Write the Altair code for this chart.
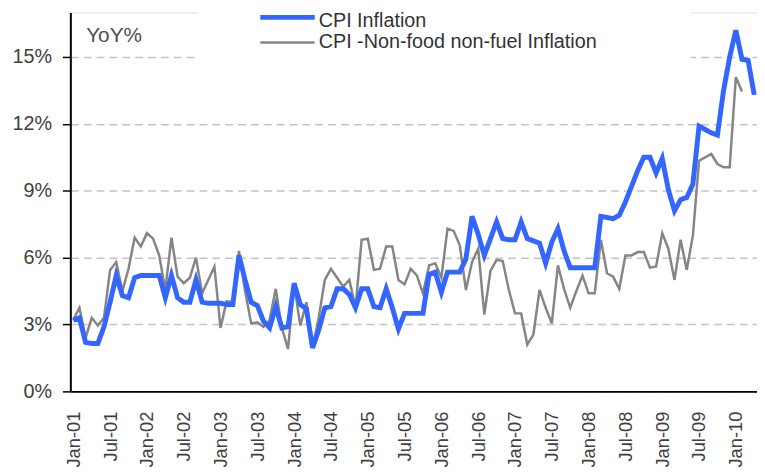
import altair as alt
import pandas as pd

# Monthly YoY inflation, Jan-2001 onwards (%)
CPI_INFLATION = [
    3.2, 3.3, 2.2, 2.15, 2.15, 2.9, 4.0, 5.2, 4.3, 4.2, 5.1, 5.2,          # 2001
    5.2, 5.2, 5.2, 4.2, 5.2, 4.2, 4.0, 4.0, 5.0, 4.0, 3.95, 3.95,          # 2002
    3.95, 3.9, 3.9, 6.1, 5.0, 4.0, 3.85, 3.15, 2.85, 3.8, 2.85, 2.9,       # 2003
    4.85, 3.9, 3.7, 1.95, 2.75, 3.75, 3.8, 4.6, 4.6, 4.35, 3.75, 4.6,      # 2004
    4.6, 3.8, 3.75, 4.6, 3.75, 2.8, 3.5, 3.5, 3.5, 3.5, 5.25, 5.35,        # 2005
    4.45, 5.35, 5.35, 5.35, 5.95, 7.85, 7.05, 6.1, 6.85, 7.6, 6.85, 6.8,   # 2006
    6.8, 7.6, 6.85, 6.75, 6.65, 5.75, 6.7, 7.3, 6.3, 5.55, 5.55, 5.55,     # 2007
    5.55, 5.55, 7.85, 7.8, 7.75, 7.9, 8.5, 9.2, 9.9, 10.5, 10.5, 9.8,      # 2008
    10.45, 9.05, 8.1, 8.6, 8.7, 9.3, 11.9, 11.75, 11.6, 11.5, 13.5, 15.0,  # 2009
    16.2, 14.9, 14.85, 13.3,                                               # 2010
]
CORE_INFLATION = [
    3.2, 3.75, 2.4, 3.3, 2.95, 3.3, 5.45, 5.8, 4.5, 5.5, 6.9, 6.5,         # 2001
    7.1, 6.85, 6.1, 4.55, 6.9, 5.15, 4.85, 5.1, 6.0, 4.4, 5.0, 5.6,        # 2002
    2.85, 4.05, 4.0, 6.3, 4.5, 3.05, 3.1, 2.9, 3.2, 4.6, 2.85, 1.9,        # 2003
    4.8, 2.95, 4.0, 1.95, 3.3, 5.0, 5.5, 5.1, 4.7, 5.0, 3.75, 6.8,         # 2004
    6.85, 5.45, 5.5, 6.5, 6.5, 5.0, 4.8, 5.5, 5.2, 4.4, 5.65, 5.75,        # 2005
    5.1, 7.3, 7.2, 6.55, 4.55, 5.8, 6.4, 3.45, 5.4, 5.9, 5.85, 4.55,       # 2006
    3.5, 3.5, 2.1, 2.55, 4.55, 3.75, 3.05, 5.65, 4.6, 3.75, 4.5, 5.2,      # 2007
    4.4, 4.4, 6.8, 5.3, 5.15, 4.6, 6.1, 6.1, 6.25, 6.25, 5.55, 5.6,        # 2008
    7.1, 6.4, 5.0, 6.8, 5.45, 7.0, 10.35, 10.5, 10.65, 10.2, 10.05, 10.05, # 2009
    14.1, 13.45,                                                           # 2010
]
SERIES = ["CPI Inflation", "CPI -Non-food non-fuel Inflation"]
TICK_LABELS = ["Jan-01", "Jul-01", "Jan-02", "Jul-02", "Jan-03", "Jul-03", "Jan-04",
               "Jul-04", "Jan-05", "Jul-05", "Jan-06", "Jul-06", "Jan-07", "Jul-07",
               "Jan-08", "Jul-08", "Jan-09", "Jul-09", "Jan-10"]
Y_TICKS = [0, 3, 6, 9, 12, 15]

BLUE = "#3366FF"
GREY = "#858585"
FONT = "Liberation Sans"

rows = []
for i, v in enumerate(CPI_INFLATION):
    rows.append({"m": i, "series": SERIES[0], "value": v})
for i, v in enumerate(CORE_INFLATION):
    rows.append({"m": i, "series": SERIES[1], "value": v})
df = pd.DataFrame(rows)

label_expr = "[" + ",".join("'%s'" % t for t in TICK_LABELS) + "][round(datum.value/6)]"

x_enc = alt.X(
    "m:Q",
    scale=alt.Scale(domain=[-0.484, 111.45], nice=False, zero=False),
    axis=alt.Axis(
        values=[6 * i for i in range(len(TICK_LABELS))],
        labelExpr=label_expr,
        labelAngle=270,
        labelAlign="right",
        labelBaseline="middle",
        labelPadding=20,
        labelFontSize=18.5,
        labelColor="#404040",
        labelFont=FONT,
        labelOverlap=False,
        labelFlush=False,
        labelBound=False,
        ticks=False,
        grid=False,
        domainColor="#000000",
        domainWidth=2,
        title=None,
    ),
)
y_enc = alt.Y(
    "value:Q",
    scale=alt.Scale(domain=[0, 17], nice=False, zero=True),
    axis=alt.Axis(
        values=Y_TICKS,
        labelExpr="datum.value + '%'",
        labelFontSize=20,
        labelColor="#404040",
        labelFont=FONT,
        labelPadding=11,
        tickSize=8,
        tickColor="#000000",
        tickWidth=1.5,
        domainColor="#000000",
        domainWidth=2,
        grid=True,
        gridDash=[8, 5],
        gridColor="#c4c4c4",
        gridWidth=1.5,
        title=None,
    ),
)

base = alt.Chart(df)
grey_line = base.transform_filter(alt.datum.series == SERIES[1]).mark_line(
    color=GREY, strokeWidth=2.5
).encode(x=x_enc, y=y_enc)
blue_line = base.transform_filter(alt.datum.series == SERIES[0]).mark_line(
    color=BLUE, strokeWidth=5
).encode(x=x_enc, y=y_enc)

# legend background box (hides gridline under legend, as in the original)
box = alt.Chart(pd.DataFrame({"k": [0]})).mark_rect(color="white").encode(
    x=alt.value(129), x2=alt.value(627), y=alt.value(-10), y2=alt.value(47)
)

leg_df = pd.DataFrame({"label": SERIES})
leg_blue = alt.Chart(leg_df.iloc[[0]]).mark_rule(color=BLUE, strokeWidth=5).encode(
    x=alt.value(192), x2=alt.value(247), y=alt.value(5)
)
leg_grey = alt.Chart(leg_df.iloc[[1]]).mark_rule(color=GREY, strokeWidth=2.5).encode(
    x=alt.value(192), x2=alt.value(247), y=alt.value(30.5)
)
leg_txt1 = alt.Chart(leg_df.iloc[[0]]).mark_text(
    align="left", baseline="alphabetic", fontSize=20, font=FONT, color="#333333"
).encode(text="label:N", x=alt.value(251), y=alt.value(15))
leg_txt2 = alt.Chart(leg_df.iloc[[1]]).mark_text(
    align="left", baseline="alphabetic", fontSize=20, font=FONT, color="#333333"
).encode(text="label:N", x=alt.value(251), y=alt.value(36))

yoy = alt.Chart(pd.DataFrame({"t": ["YoY%"]})).mark_text(
    align="left", baseline="alphabetic", fontSize=21, font=FONT, color="#505050"
).encode(text="t:N", x=alt.value(16), y=alt.value(30))

chart = alt.layer(box, grey_line, blue_line, leg_blue, leg_grey, leg_txt1, leg_txt2, yoy).properties(
    width=694,
    height=383,
    autosize=alt.AutoSizeParams(type="none"),
    padding={"left": 63, "top": 2, "right": 0, "bottom": 79},
).configure_view(strokeWidth=0).configure(background="white")

chart.save("out.html", embed_options={"renderer": "svg", "actions": False})
